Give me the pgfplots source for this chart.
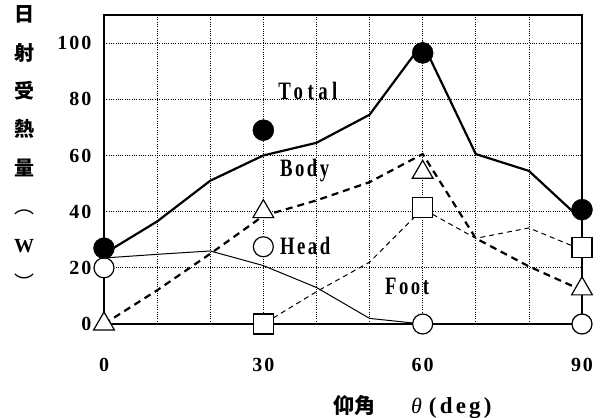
\documentclass[border=0pt]{standalone}
\usepackage{fontspec}
\setmainfont{Liberation Serif}
\newfontfamily\tickfont[LetterSpace=10]{Liberation Serif}
\newfontfamily\xlfont[LetterSpace=14]{Liberation Serif}
\newfontfamily\labfont[FakeStretch=0.75,LetterSpace=10]{Liberation Serif}
\newfontfamily\totfont[FakeStretch=0.75,LetterSpace=18]{Liberation Serif}
\newfontfamily\cjk{Noto Sans CJK JP}
\usepackage{pgfplots}
\pgfplotsset{compat=1.18}

\begin{document}
\begin{tikzpicture}
\begin{axis}[
 scale only axis, width=478pt, height=309pt,
 xmin=0,xmax=90,ymin=0,ymax=110,
 xtick={0,10,...,90}, xticklabels={0,,,30,,,60,,,90},
 ytick={0,20,...,100}, yticklabels={0,20,40,60,80,100},
 grid=major, major grid style={black, line width=0.75pt, dash pattern=on 1pt off 1.3pt},
 major tick length=0pt,
 axis line style={line width=1.3pt},
 tick label style={font=\tickfont\bfseries\fontsize{20}{20}\selectfont},
 xticklabel style={anchor=center, yshift=-41pt},
 yticklabel style={anchor=east, xshift=-9pt},
 clip=false,
]
% simulation lines
\addplot[black, line width=2.2pt] coordinates {(0,25)(10,36.5)(20,51)(30,60)(40,64.5)(50,74.5)(60,100)(70,60.5)(80,54.5)(90,37)};
\addplot[black, line width=2.2pt, dash pattern=on 7pt off 5pt] coordinates {(0,0)(10,12)(20,25)(30,38.5)(40,44)(50,50.5)(60,60.5)(70,30.5)(80,20.5)(90,12)};
\addplot[black, line width=1pt] coordinates {(0,23.5)(10,24.8)(20,26)(30,20.8)(40,13)(50,2)(60,0)(70,0)(80,0)(90,0)};
\addplot[black, line width=1pt, dash pattern=on 5pt off 4pt] coordinates {(0,0)(10,0)(20,0)(30,0)(40,11.5)(50,22)(60,41)(70,30.5)(80,34.2)(90,26.4)};
% measured points
\addplot[only marks, mark=*, mark size=10pt, mark options={draw=black, fill=white, line width=1.2pt}] coordinates {(0,20)(30,27.5)(60,0)(90,0)};
\addplot[only marks, mark=*, mark size=10.5pt, mark options={draw=black, fill=black}] coordinates {(0,27)(30,69)(60,96.5)(90,40.7)};
\addplot[only marks, mark=triangle*, mark size=12pt, mark options={draw=black, fill=white, line width=1.2pt}] coordinates {(0,0)(30,40)(60,54)(90,12.5)};
\addplot[only marks, mark=square*, mark size=10pt, mark options={draw=black, fill=white, line width=1.2pt}] coordinates {(30,0)(60,41.4)(90,27.3)};
% labels
\node[anchor=base west, inner sep=0, font=\totfont\bfseries\fontsize{25}{25}\selectfont] at (axis cs:32.8,80) {Total};
\node[anchor=base west, inner sep=0, font=\labfont\bfseries\fontsize{25}{25}\selectfont] at (axis cs:33.1,52.5) {Body};
\node[anchor=base west, inner sep=0, font=\labfont\bfseries\fontsize{25}{25}\selectfont] at (axis cs:33.1,24.6) {Head};
\node[anchor=base west, inner sep=0, font=\labfont\bfseries\fontsize{25}{25}\selectfont] at (axis cs:52.9,10.4) {Foot};
\node[anchor=base west, inner sep=0] at (axis cs:43.1,-31.8) {{\cjk\bfseries\fontsize{21}{21}\selectfont 仰角}\hspace{36pt}{\itshape\fontsize{22}{22}\selectfont θ}\hspace{7pt}{\xlfont\bfseries\fontsize{23}{23}\selectfont (deg)}};
\node[align=center, inner sep=0, font=\cjk\bfseries\fontsize{20}{38.4}\selectfont] at (axis cs:-15.06,62.6) {日\\射\\受\\熱\\量\\{\mdseries ︵}\\{\rmfamily\bfseries W}\\{\mdseries ︶}};
\end{axis}
\pgfresetboundingbox
\path ([shift={(-104pt,-93pt)}]current axis.south west) rectangle ([shift={(22pt,15pt)}]current axis.north east);
\end{tikzpicture}
\end{document}
